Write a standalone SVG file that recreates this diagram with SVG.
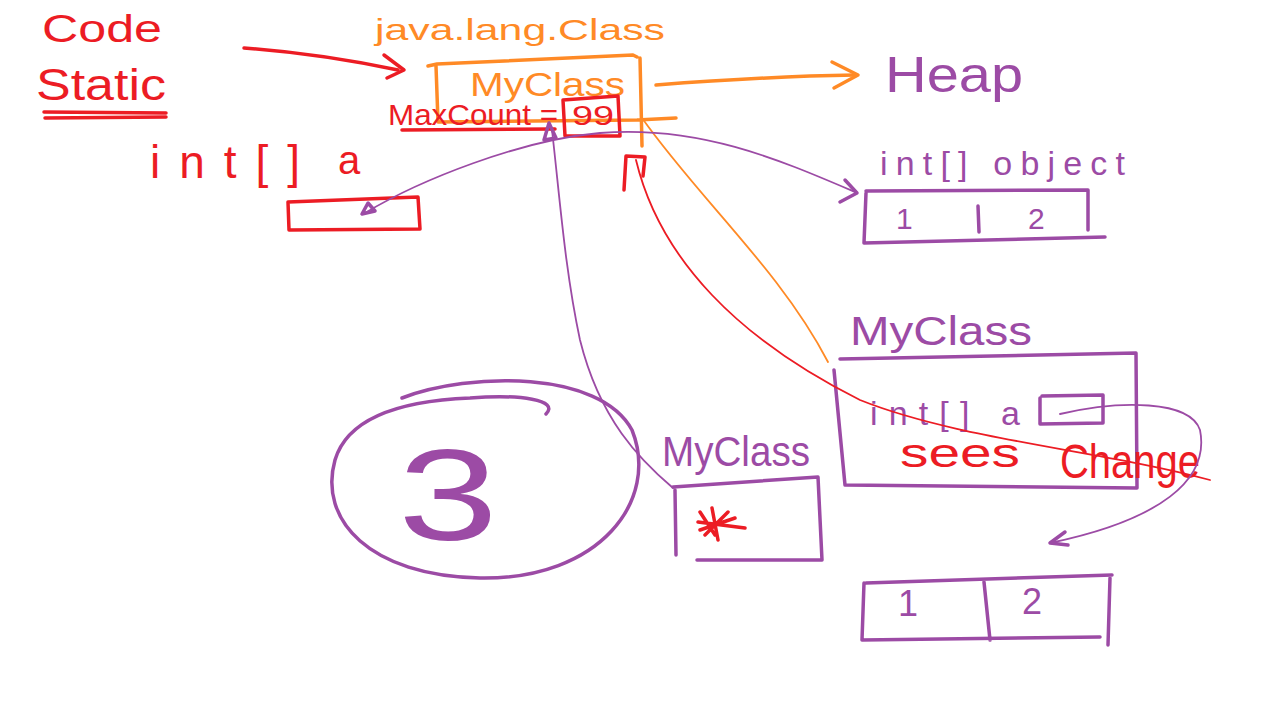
<svg xmlns="http://www.w3.org/2000/svg" width="1283" height="722" viewBox="0 0 1283 722">
<style>
text{font-family:"Liberation Sans","DejaVu Sans",sans-serif}
.r{fill:#ec1c24}.o{fill:#ff8a26}.p{fill:#9c4ba5}
.sr,.so,.sp{fill:none;stroke-linecap:round;stroke-linejoin:round}
.sr{stroke:#ec1c24;stroke-width:3.5}
.so{stroke:#ff8a26;stroke-width:3.5}
.sp{stroke:#9c4ba5;stroke-width:3.5}
.thin{stroke-width:1.8}
</style>
<rect width="1283" height="722" fill="#fff"/>
<g id="code-label"><text class="r" x="42" y="42" font-size="38" textLength="120" lengthAdjust="spacingAndGlyphs">Code</text></g>
<g id="static-label"><text class="r" x="36" y="100" font-size="44" textLength="130" lengthAdjust="spacingAndGlyphs">Static</text>
<path class="sr" d="M44 112 L166 113 M45 118 L166 117"/></g>
<g id="java-lang-class"><text class="o" x="375" y="40" font-size="30" textLength="290" lengthAdjust="spacingAndGlyphs">java.lang.Class</text></g>
<g id="myclass-static">
<path class="so" d="M428 66 L437 64 L633 55 L637 57 M436 66 L438 122 L637 120 L676 118 M640 58 L642 146"/>
<text class="o" x="470" y="96" font-size="34" textLength="155" lengthAdjust="spacingAndGlyphs">MyClass</text>
<text class="r" x="388" y="125" font-size="30" textLength="170" lengthAdjust="spacingAndGlyphs">MaxCount =</text>
<path class="sr" d="M402 130 L555 129"/>
<path class="sr" d="M563 100 L618 96 L620 136 L565 136 Z"/>
<text class="r" x="572" y="125" font-size="28" textLength="42" lengthAdjust="spacingAndGlyphs">99</text>
</g>
<g id="heap-label"><text class="p" x="885" y="92" font-size="50" textLength="138" lengthAdjust="spacingAndGlyphs">Heap</text></g>
<g id="static-int-a">
<text class="r" x="150" y="178" font-size="46" textLength="150" lengthAdjust="spacing">int[]</text>
<text class="r" x="338" y="174" font-size="40">a</text>
<path class="sr" d="M288 202 L418 197 L420 229 L289 230 Z"/>
</g>
<g id="int-array-object">
<text class="p" x="880" y="175" font-size="34" textLength="245" lengthAdjust="spacing">int[] object</text>
<path class="sp" d="M866 191 L1088 190 L1088 230 M866 193 L864 243 L1105 237 M978 206 L979 232"/>
<text class="p" x="896" y="229" font-size="30">1</text>
<text class="p" x="1028" y="229" font-size="30">2</text>
</g>
<g id="myclass-object">
<text class="p" x="850" y="345" font-size="40" textLength="182" lengthAdjust="spacingAndGlyphs">MyClass</text>
<path class="sp" d="M840 359 L1136 353 L1137 488 L845 485 L834 370"/>
<text class="p" x="870" y="425" font-size="34" textLength="150" lengthAdjust="spacing">int[]  a</text>
<path class="sp" d="M1042 396 L1103 395 L1103 423 L1040 424 L1040 398"/>
<text class="r" x="900" y="467" font-size="40" textLength="120" lengthAdjust="spacingAndGlyphs">sees</text>
<text class="r" x="1060" y="478" font-size="48" textLength="140" lengthAdjust="spacingAndGlyphs">Change</text>
</g>
<g id="myclass-ref">
<text class="p" x="662" y="466" font-size="42" textLength="148" lengthAdjust="spacingAndGlyphs">MyClass</text>
<path class="sp" d="M673 487 L818 477 L822 560 L697 560 M675 490 L676 555"/>
<path class="sr" d="M700 512 L715 535 M705 535 L728 512 M698 522 L745 528 M712 508 L718 540 M700 530 L735 518"/>
</g>
<g id="circle-3">
<path class="sp" d="M402 398 C470 372 600 370 632 430 C660 500 600 580 480 578 C370 576 318 520 335 460 C350 410 420 400 470 398 C520 394 560 400 546 414"/>
<text class="p" x="398" y="540" font-size="130" textLength="100" lengthAdjust="spacingAndGlyphs">3</text>
</g>
<g id="heap-array-2">
<path class="sp" d="M866 583 L1112 575 M864 583 L862 640 L1100 637 M984 582 L990 640 M1110 578 L1108 645"/>
<text class="p" x="898" y="616" font-size="36">1</text>
<text class="p" x="1022" y="614" font-size="36">2</text>
</g>
<g id="connectors">
<path class="sr" d="M244 48 C300 52 360 62 398 70"/>
<path class="sr" d="M384 55 L404 70 L387 78"/>
<path class="so" d="M656 85 C720 80 790 76 855 75"/>
<path class="so" d="M832 62 L858 75 L834 88"/>
<path class="so thin" d="M642 118 C700 200 780 270 828 362"/>
<path class="sr thin" d="M636 160 C660 260 740 340 860 400 C960 440 1100 450 1210 480"/>
<path class="sr" d="M624 190 L626 156 L645 157 L643 176"/>
<path class="sp thin" d="M365 213 C420 180 520 140 600 133 C700 125 780 160 855 192"/>
<path class="sp" d="M368 203 L362 214 L375 211 Z" fill="#9c4ba5"/>
<path class="sp" d="M845 180 L857 193 L840 202"/>
<path class="sp thin" d="M673 488 C640 460 600 420 580 340 C565 270 560 200 552 130"/>
<path class="sp" d="M544 140 L549 123 L556 138 Z" fill="#9c4ba5"/>
<path class="sp thin" d="M1060 414 C1120 400 1190 400 1200 430 C1210 480 1160 520 1050 543"/>
<path class="sp" d="M1065 532 L1050 543 L1068 545"/>
</g>
</svg>
